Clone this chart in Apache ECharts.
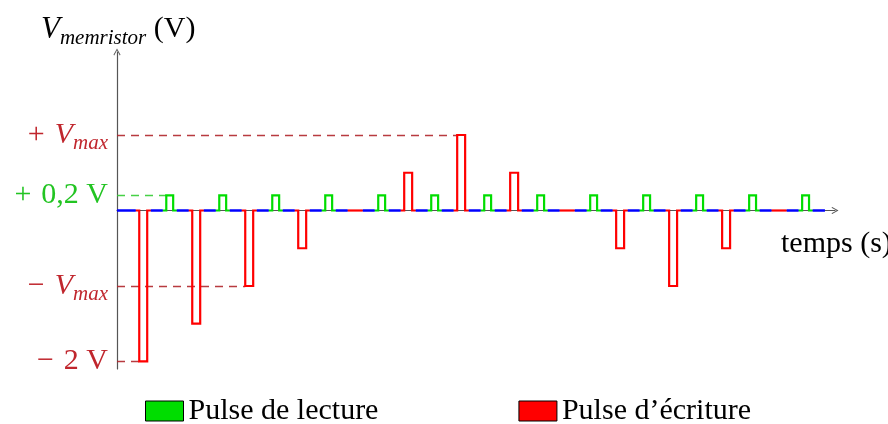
<!DOCTYPE html>
<html><head><meta charset="utf-8">
<script src="https://cdn.jsdelivr.net/npm/echarts@6/dist/echarts.min.js"></script>
<style>html,body{margin:0;padding:0;background:#fff}#c{width:888px;height:424px}</style>
</head><body><div id="c"></div>
<script>
// ---- data ----
const writeTimes = [0.42, 1.42, 2.42, 3.42, 4.42, 5.42, 6.42, 7.42, 8.42, 9.42, 10.42, 11.42, 12.42];
const writeAmps  = [-2, -1.5, -1, -0.5, 0, 0.5, 1, 0.5, 0, -0.5, -1, -0.5, 0];
const readTimes  = [0.93, 1.93, 2.93, 3.93, 4.93, 5.93, 6.93, 7.93, 8.93, 9.93, 10.93, 11.93, 12.93];
const readAmp = 0.2;
const writeWidth = 0.15;
const readWidth = 0.13;
const lead = 0.065;
const baselineEnd = 13.36;
const axisEnd = 13.55;
const vMax = 1;
const yTicks = [-2, -vMax, readAmp, vMax];

// ---- build shapes ----
function pulse(t, a, w) {
  return [[t - lead, 0], [t, 0], [t, a], [t + w, a], [t + w, 0], [t + w + lead, 0]];
}
const redLines = writeTimes.map((t, i) => ({ coords: pulse(t, writeAmps[i], writeWidth) }));
const greenLines = readTimes.map(t => ({ coords: pulse(t, readAmp, readWidth) }));
const intervals = writeTimes.map(t => [t - lead, t + writeWidth + lead])
  .concat(readTimes.map(t => [t - lead, t + readWidth + lead]))
  .sort((a, b) => a[0] - b[0]);
const blueLines = [];
let cur = 0;
intervals.forEach(iv => { if (iv[0] > cur) blueLines.push({ coords: [[cur, 0], [iv[0], 0]] }); cur = Math.max(cur, iv[1]); });
if (baselineEnd > cur) blueLines.push({ coords: [[cur, 0], [baselineEnd, 0]] });

// reference dashed lines: to the pulse reaching that level
const iPlus = writeAmps.indexOf(vMax), iMinus = writeAmps.indexOf(-vMax), iMin = writeAmps.indexOf(-2);
const redRefs = [
  { coords: [[0, vMax], [writeTimes[iPlus], vMax]] },
  { coords: [[0, -vMax], [writeTimes[iMinus], -vMax]] },
  { coords: [[0, -2], [writeTimes[iMin], -2]] }
];
const greenRefs = [{ coords: [[0, readAmp], [readTimes[0], readAmp]] }];

const SERIF = '"Liberation Serif","DejaVu Serif",serif';
const DR = '#c0262d', GR = '#22c422';
const chevron = 'path://M5,0 L10,9 L9,10 L5,2.6 L1,10 L0,9 Z';

const chart = echarts.init(document.getElementById('c'), null, { renderer: 'canvas' });
chart.setOption({
  animation: false,
  backgroundColor: '#fff',
  title: [
    { text: '{i|V}{s|memristor}{n| (V)}', left: 36, top: 5,
      textStyle: { rich: {
        i: { fontFamily: SERIF, fontStyle: 'italic', fontWeight: 'normal', fontSize: 31, color: '#000' },
        s: { fontFamily: SERIF, fontStyle: 'italic', fontWeight: 'normal', fontSize: 21, color: '#000', padding: [18, 0, 0, 0] },
        n: { fontFamily: SERIF, fontWeight: 'normal', fontSize: 30, color: '#000' } } } },
    { text: 'temps (s)', left: 776, top: 224,
      textStyle: { fontFamily: SERIF, fontSize: 30, fontWeight: 'normal', color: '#000' } }
  ],
  legend: {
    left: 140, top: 391, itemWidth: 38, itemHeight: 20, itemGap: 140, icon: 'rect',
    textStyle: { fontFamily: SERIF, fontSize: 30, color: '#000' },
    data: [
      { name: 'Pulse de lecture', itemStyle: { color: '#00dd00', borderColor: '#000', borderWidth: 1 } },
      { name: 'Pulse d\u2019\u00e9criture', itemStyle: { color: '#ff0000', borderColor: '#000', borderWidth: 1 } }
    ]
  },
  grid: { left: 117, right: 53, top: 52, bottom: 55 },
  xAxis: {
    type: 'value', min: 0, max: axisEnd,
    axisLine: { onZero: true, lineStyle: { color: '#555', width: 1.2 }, symbol: ['none', chevron], symbolSize: [9, 7], symbolOffset: [0, 0] },
    axisTick: { show: false }, axisLabel: { show: false }, splitLine: { show: false }
  },
  yAxis: {
    type: 'value', min: -2.1, max: 2.1,
    axisLine: { show: true, onZero: false, lineStyle: { color: '#555', width: 1.2 }, symbol: ['none', chevron], symbolSize: [9, 7] },
    axisTick: { show: false }, splitLine: { show: false },
    axisLabel: {
      customValues: yTicks, margin: 9, showMinLabel: true, showMaxLabel: true,
      formatter: function (v) {
        if (v === vMax) return '{op|+}{ri|V}{rs|max}';
        if (v === -vMax) return '{op|\u2212}{ri|V}{rs|max}';
        if (v === readAmp) return '{gop|+}{g|0,2 V}';
        return '{op|\u2212}{r|2 V}';
      },
      rich: {
        op: { fontFamily: SERIF, fontSize: 30, color: DR, padding: [0, 10, 0, 0] },
        gop: { fontFamily: SERIF, fontSize: 30, color: GR, padding: [0, 10, 0, 0] },
        r: { fontFamily: SERIF, fontSize: 30, color: DR },
        ri: { fontFamily: SERIF, fontSize: 30, fontStyle: 'italic', color: DR },
        rs: { fontFamily: SERIF, fontSize: 21, fontStyle: 'italic', color: DR, padding: [17, 0, 0, 0] },
        g: { fontFamily: SERIF, fontSize: 30, color: GR }
      }
    }
  },
  series: [
    { type: 'lines', name: 'refR', coordinateSystem: 'cartesian2d', polyline: false, silent: true, z: 1,
      lineStyle: { color: '#b0262b', width: 1.3, type: [8, 6], opacity: 0.9 }, data: redRefs },
    { type: 'lines', name: 'refG', coordinateSystem: 'cartesian2d', polyline: false, silent: true, z: 1,
      lineStyle: { color: '#33cc33', width: 1.3, type: [8, 6], opacity: 0.9 }, data: greenRefs },
    { type: 'lines', name: 'base', coordinateSystem: 'cartesian2d', polyline: true, silent: true, z: 2,
      lineStyle: { color: '#0000ff', width: 2.4, opacity: 1 }, data: blueLines },
    { type: 'lines', name: 'Pulse de lecture', coordinateSystem: 'cartesian2d', polyline: true, z: 3,
      itemStyle: { color: '#00dd00' },
      lineStyle: { color: '#00dd00', width: 2.2, opacity: 1, join: 'miter' }, data: greenLines },
    { type: 'lines', name: 'Pulse d\u2019\u00e9criture', coordinateSystem: 'cartesian2d', polyline: true, z: 4,
      itemStyle: { color: '#ff0000' },
      lineStyle: { color: '#ff0000', width: 2.2, opacity: 1, join: 'miter' }, data: redLines }
  ]
});
</script></body></html>
